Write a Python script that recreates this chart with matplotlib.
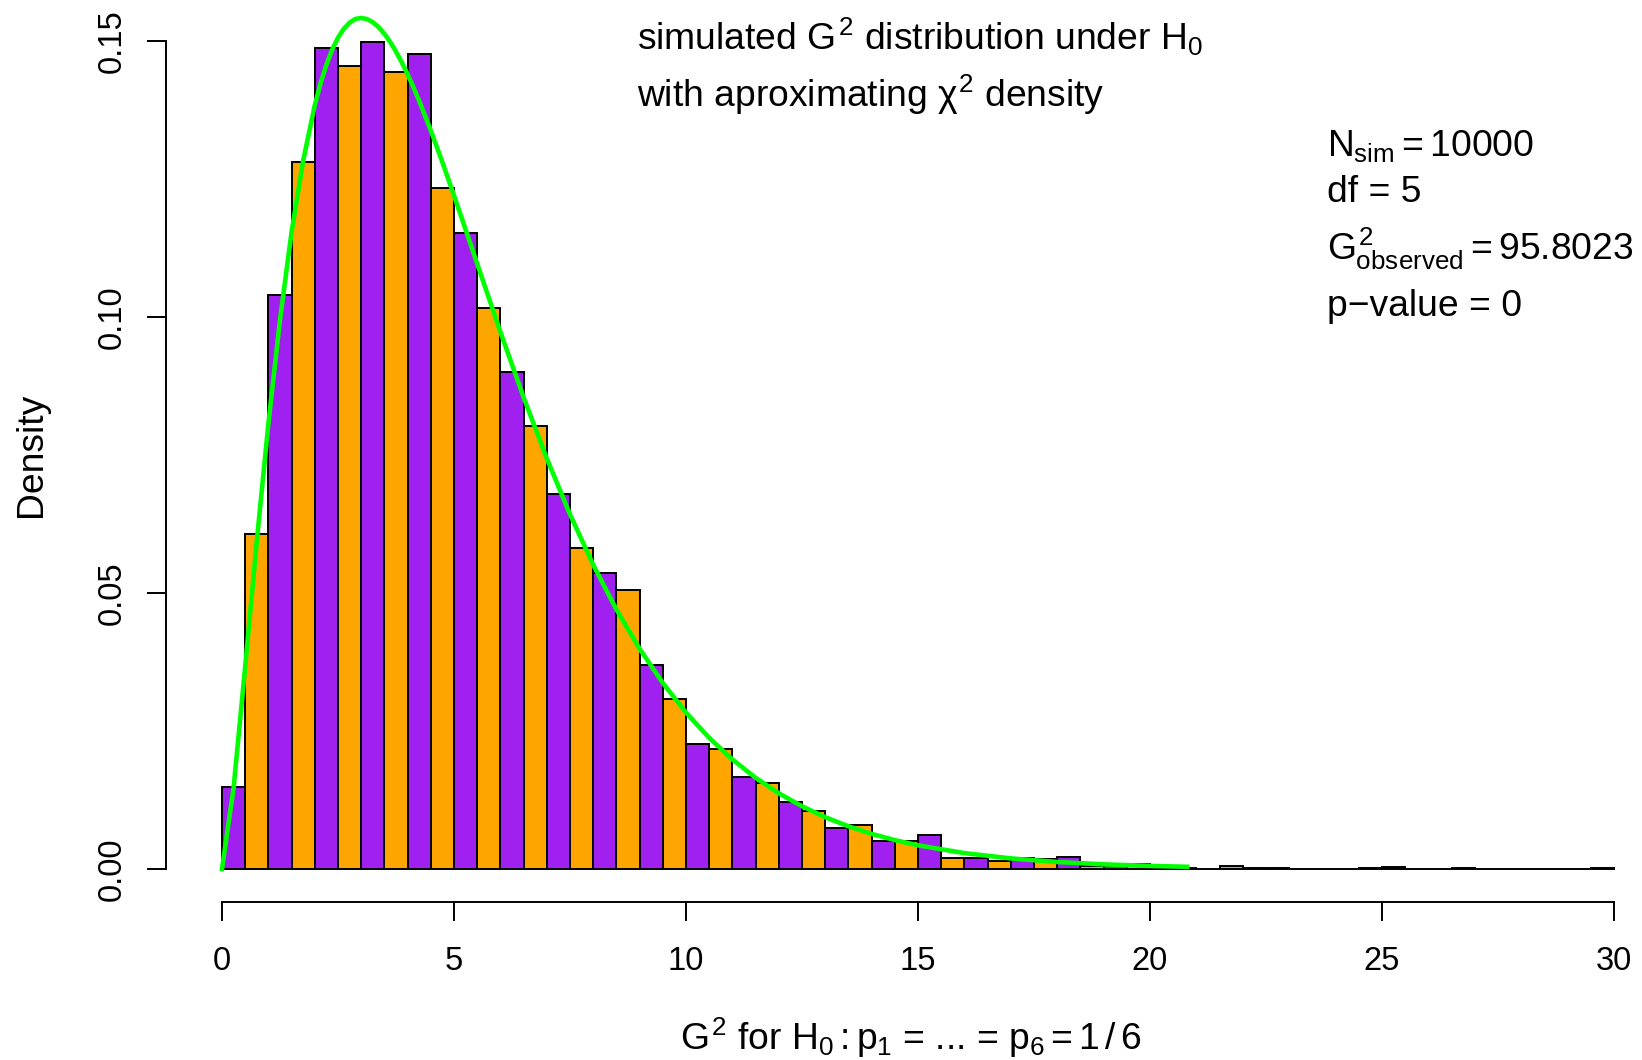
#!/usr/bin/env python3

import numpy as np
import matplotlib
matplotlib.use("Agg")
import matplotlib.pyplot as plt

# histogram of simulated G^2 values (density scale), bins of width 0.5 on [0, 30]
bin_width = 0.5
density = [
    0.0148, 0.0607, 0.1039, 0.1281, 0.1487, 0.1455, 0.1499, 0.1443, 0.1476, 0.1234,
    0.1153, 0.1017, 0.0901, 0.0802, 0.0679, 0.0582, 0.0536, 0.0505, 0.0370, 0.0307,
    0.0226, 0.0217, 0.0167, 0.0156, 0.0121, 0.0105, 0.0074, 0.0079, 0.0051, 0.0050,
    0.0061, 0.0020, 0.0020, 0.0015, 0.0019, 0.0018, 0.0021, 0.0005, 0.0006, 0.0008,
    0.0000, 0.0002, 0.0000, 0.0006, 0.0002, 0.0002, 0.0000, 0.0000, 0.0000, 0.0002,
    0.0004, 0.0000, 0.0000, 0.0002, 0.0000, 0.0000, 0.0000, 0.0000, 0.0000, 0.0002,
]
bar_colors = ["#A020F0", "#FFA500"]

# approximating chi-square density (df = 5)
curve_x = [0, 0.25, 0.5, 0.75, 1, 1.25, 1.5, 1.75, 2, 2.125, 2.25, 2.375, 2.5,
           2.625, 2.75, 2.875, 3, 3.125, 3.25, 3.375, 3.5, 3.625, 3.75, 3.875,
           4, 4.125, 4.25, 4.5, 4.75, 5, 5.5, 6, 6.5, 7, 7.5, 8, 8.5, 9,
           9.5, 10, 10.5, 11, 11.5, 12, 12.5, 13, 13.5, 14, 14.5, 15, 16, 17,
           18, 19, 20, 20.8]
curve_y = [0.0, 0.01467, 0.03662, 0.05936, 0.08066, 0.09947, 0.11540, 0.12833,
           0.13837, 0.14237, 0.14571, 0.14845, 0.15060, 0.15222, 0.15333, 0.15399,
           0.15418, 0.15398, 0.15342, 0.15252, 0.15131, 0.14983, 0.14809, 0.14613,
           0.14398, 0.14165, 0.13915, 0.13380, 0.12805, 0.12204, 0.10965, 0.09730,
           0.08545, 0.07437, 0.06424, 0.05511, 0.04701, 0.03989, 0.03369, 0.02833,
           0.02374, 0.01983, 0.01651, 0.01370, 0.01135, 0.00937, 0.00772, 0.00635,
           0.00521, 0.00427, 0.00286, 0.00190, 0.00125, 0.00082, 0.00054, 0.00038]

x_ticks = [0, 5, 10, 15, 20, 25, 30]
y_ticks = [0.00, 0.05, 0.10, 0.15]
y_tick_labels = ["0.00", "0.05", "0.10", "0.15"]

W, H = 1642, 1060


def main():
    plt.rcParams["font.family"] = ["Liberation Sans", "DejaVu Sans"]
    plt.rcParams["mathtext.fontset"] = "custom"
    plt.rcParams["mathtext.rm"] = "Liberation Sans"
    plt.rcParams["mathtext.it"] = "Liberation Sans"
    plt.rcParams["mathtext.sf"] = "Liberation Sans"
    plt.rcParams["mathtext.bf"] = "Liberation Sans:bold"
    fs = 23.5   # tick labels
    fs2 = 26.8  # axis labels and annotations

    fig = plt.figure(figsize=(W / 100, H / 100), dpi=100)
    left, bottom, top = 166.3, 902.0, 7.9
    ax = fig.add_axes([left / W, 1 - bottom / H, 1 - left / W, (bottom - top) / H])

    lefts = np.arange(len(density)) * bin_width
    colors = [bar_colors[i % 2] for i in range(len(density))]
    ax.bar(lefts, density, width=bin_width, align="edge", color=colors,
           edgecolor="black", linewidth=1.4)
    ax.plot(curve_x, curve_y, color="#00FF00", lw=3.3)

    ax.set_xlim(-1.2, -1.2 + (W - left) / 46.4)
    ax.set_ylim(-0.006, 0.156)

    for s in ["top", "right"]:
        ax.spines[s].set_visible(False)
    ax.spines["left"].set_bounds(0, 0.15)
    ax.spines["bottom"].set_bounds(0, 30)
    ax.spines["left"].set_linewidth(1.4)
    ax.spines["bottom"].set_linewidth(1.4)

    ax.set_xticks(x_ticks)
    ax.set_xticklabels([str(t) for t in x_ticks])
    ax.set_yticks(y_ticks)
    ax.set_yticklabels(y_tick_labels, rotation=90, va="center")
    ax.tick_params(length=14, width=1.4, labelsize=fs)
    ax.tick_params(axis="x", pad=17.5)
    ax.tick_params(axis="y", pad=14)

    fig.text(31 / W, 1 - 455 / H, "Density", rotation=90, ha="center",
             va="center", fontsize=fs2)
    fig.text(911 / W, 1 - 1050 / H,
             r"$G^2$ for $H_0:p_1$ = ... = $p_6 = 1\,/\,6$",
             ha="center", va="baseline", fontsize=fs2)

    fig.text(637 / W, 1 - 50 / H, r"simulated $G^2$ distribution under $H_0$",
             ha="left", va="baseline", fontsize=fs2)
    fig.text(637 / W, 1 - 107 / H, r"with aproximating $\chi^2$ density",
             ha="left", va="baseline", fontsize=fs2)

    fig.text(1327 / W, 1 - 156 / H, r"$N_{sim} = 10000$",
             ha="left", va="baseline", fontsize=fs2)
    fig.text(1327 / W, 1 - 202 / H, "df = 5",
             ha="left", va="baseline", fontsize=fs2)
    fig.text(1327 / W, 1 - 260 / H, r"$G^2_{observed} = 95.8023$",
             ha="left", va="baseline", fontsize=fs2)
    fig.text(1327 / W, 1 - 316 / H, "p\u2212value = 0",
             ha="left", va="baseline", fontsize=fs2)

    fig.savefig("out.png", dpi=100)


if __name__ == "__main__":
    main()
